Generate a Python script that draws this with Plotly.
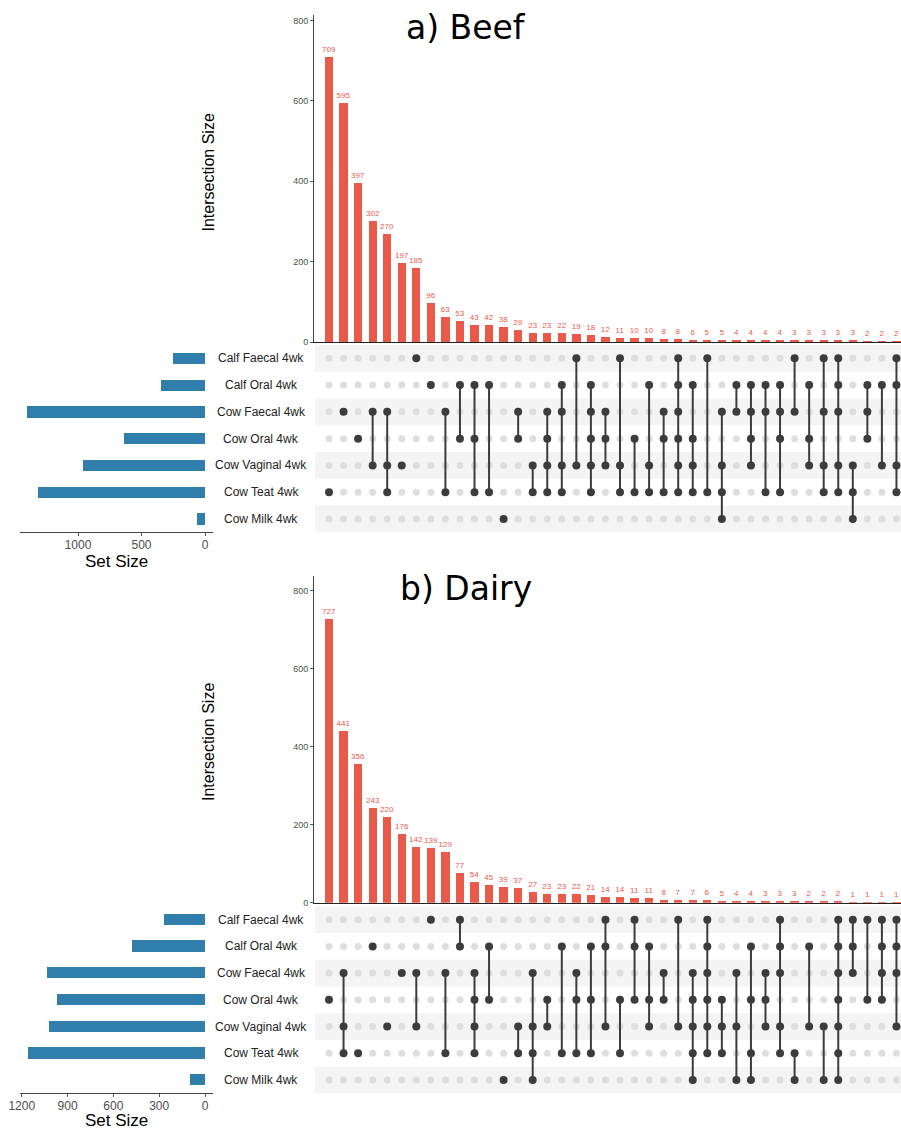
import plotly.graph_objects as go

# ---------------- data ----------------
set_names = ["Calf Faecal 4wk", "Calf Oral 4wk", "Cow Faecal 4wk", "Cow Oral 4wk",
             "Cow Vaginal 4wk", "Cow Teat 4wk", "Cow Milk 4wk"]

beef_inter_sizes = [709, 595, 397, 302, 270, 197, 185, 96, 63, 53,
                    43, 42, 38, 29, 23, 23, 22, 19, 18, 12,
                    11, 10, 10, 8, 8, 6, 5, 5, 4, 4,
                    4, 4, 3, 3, 3, 3, 3, 2, 2, 2]
# membership: indices into set_names
beef_members = [[5], [2], [3], [2, 4], [2, 4, 5], [4], [0], [1], [2, 5], [1, 3],
                [1, 3, 5], [1, 5], [6], [2, 3], [4, 5], [2, 3, 4, 5], [1, 2, 4, 5], [0, 4], [1, 2, 3, 4, 5], [2, 3, 4],
                [0, 4, 5], [3, 5], [1, 4, 5], [2, 3, 5], [0, 1, 2, 3, 4, 5], [1, 3, 4, 5], [0, 5], [2, 4, 5, 6], [1, 2], [1, 2, 3, 4],
                [1, 2, 5], [1, 2, 3, 5], [0, 2], [1, 3, 4], [0, 2, 4, 5], [0, 1, 2, 4, 5], [4, 5, 6], [1, 2, 3], [1, 4], [0, 1, 4, 5]]
beef_set_sizes = [255, 344, 1399, 635, 963, 1317, 63]

dairy_inter_sizes = [727, 441, 356, 243, 220, 176, 142, 139, 129, 77,
                     54, 45, 39, 37, 27, 23, 23, 22, 21, 14,
                     14, 11, 11, 8, 7, 7, 6, 5, 4, 4,
                     3, 3, 3, 2, 2, 2, 1, 1, 1, 1]
dairy_members = [[3], [2, 4, 5], [5], [1], [4], [2], [2, 4], [0], [2, 5], [0, 1],
                 [2, 3, 4, 5], [1, 3], [6], [4, 5], [2, 4, 5, 6], [3, 4], [1, 5], [2, 3, 5], [1, 3, 5], [0, 1, 4],
                 [3, 5], [0, 1, 3], [1, 3, 4], [2, 3], [0, 4], [2, 3, 4, 5, 6], [0, 1, 2, 3, 4, 5], [3, 4, 5], [2, 4, 6], [1, 3, 5, 6],
                 [2, 3, 4], [0, 1, 2, 4, 5], [5, 6], [1, 4], [4, 6], [0, 1, 2, 3, 4, 5, 6], [0, 1, 2], [0, 3], [0, 1, 2, 3], [0, 1, 2, 4]]
dairy_set_sizes = [271, 476, 1035, 969, 1019, 1161, 96]

beef_set_ticks = [0, 500, 1000]
dairy_set_ticks = [0, 300, 600, 900, 1200]
inter_ticks = [0, 200, 400, 600, 800]

# ---------------- style ----------------
W, H = 901, 1129
RED = "#EA5A4B"
BLUE = "#317EAC"
DARK = "#3C3C3C"
LIGHT = "#DEDEDE"
BAND = "#F4F4F4"
TICKC = "#4D4D4D"
SANS = "Liberation Sans, Arial, sans-serif"


def px(x):
    return x / W


def py(y):
    return 1 - y / H


fig = go.Figure()
annotations = []
shapes = []

COL0 = 329.0
STEP = 14.55
AX_LEFT = 314.0
RANGE_TOP = {0: (342 - 15) / 0.4017, 1: (902.7 - 576) / 0.39}


def nm(a):
    return "" if a == 1 else str(a)


def panel(k, title, inter_sizes, members, set_sizes, set_ticks,
          title_y, bar_top, bar_base, mat_top, mat_bot, set_range, ylab_y, setsize_y):
    n = len(inter_sizes)
    xs = list(range(1, n + 1))
    r0 = 1 - (COL0 - AX_LEFT) / STEP
    r1 = r0 + (W - AX_LEFT) / STEP
    xa, ya = 3 * k + 1, 3 * k + 1          # bars
    xm, ym = 3 * k + 2, 3 * k + 2          # matrix
    xs_ = 3 * k + 3                        # set sizes

    # intersection bars
    fig.add_trace(go.Bar(x=xs, y=inter_sizes, text=[str(v) for v in inter_sizes],
                         textposition="outside", constraintext="none",
                         textfont=dict(size=8, color=RED, family=SANS),
                         marker=dict(color=RED, line=dict(width=0)), width=0.57,
                         cliponaxis=False, hoverinfo="skip",
                         xaxis="x" + nm(xa), yaxis="y" + nm(ya), showlegend=False))

    # matrix dots and lines
    ix, iy, ax_, ay_, lx, ly = [], [], [], [], [], []
    for c, mem in zip(xs, members):
        for r in range(len(set_names)):
            if r in mem:
                ax_.append(c); ay_.append(r)
            else:
                ix.append(c); iy.append(r)
        if len(mem) > 1:
            lx += [c, c, None]; ly += [min(mem), max(mem), None]
    fig.add_trace(go.Scatter(x=ix, y=iy, mode="markers", marker=dict(size=7, color=LIGHT),
                             xaxis="x" + nm(xm), yaxis="y" + nm(ym), hoverinfo="skip", showlegend=False,
                             cliponaxis=False))
    fig.add_trace(go.Scatter(x=lx, y=ly, mode="lines", line=dict(color=DARK, width=2),
                             xaxis="x" + nm(xm), yaxis="y" + nm(ym), hoverinfo="skip", showlegend=False,
                             cliponaxis=False))
    fig.add_trace(go.Scatter(x=ax_, y=ay_, mode="markers", marker=dict(size=8, color=DARK),
                             xaxis="x" + nm(xm), yaxis="y" + nm(ym), hoverinfo="skip", showlegend=False,
                             cliponaxis=False))

    # set size bars
    fig.add_trace(go.Bar(x=set_sizes, y=list(range(len(set_names))), orientation="h",
                         marker=dict(color=BLUE, line=dict(width=0)), width=0.42,
                         xaxis="x" + nm(xs_), yaxis="y" + nm(ym), hoverinfo="skip", showlegend=False))

    # axes
    fig.update_layout(**{
        "xaxis" + nm(xa): dict(domain=[px(AX_LEFT), 1], range=[r0, r1], anchor="y" + nm(ya),
                               showline=True, linecolor="#222222", linewidth=1.2, showticklabels=False,
                               ticks="", showgrid=False, zeroline=False, automargin=False),
        "yaxis" + nm(ya): dict(domain=[py(bar_base), py(bar_top)], range=[0, RANGE_TOP[k]],
                               anchor="x" + nm(xa), tickvals=inter_ticks, ticks="outside", ticklen=3,
                               tickcolor="#555555", tickfont=dict(size=9, color=TICKC, family=SANS),
                               showline=True, linecolor="#444444", linewidth=1, showgrid=False,
                               zeroline=False, automargin=False),
        "xaxis" + nm(xm): dict(domain=[px(AX_LEFT), 1], range=[r0, r1], anchor="y" + nm(ym),
                               showticklabels=False, ticks="", showgrid=False, zeroline=False,
                               showline=False, automargin=False),
        "yaxis" + nm(ym): dict(domain=[py(mat_bot), py(mat_top)], range=[6.5, -0.5], anchor="x" + nm(xm),
                               showticklabels=False, ticks="", showgrid=False, zeroline=False,
                               showline=False, automargin=False),
        "xaxis" + nm(xs_): dict(domain=[px(20), px(213)], range=set_range, anchor="y" + nm(ym),
                                tickvals=set_ticks, ticks="outside", ticklen=3, tickcolor="#555555",
                                tickfont=dict(size=12, color=TICKC, family=SANS), ticklabelstandoff=-2,
                                showline=True, linecolor="#444444", linewidth=1, showgrid=False,
                                zeroline=False, automargin=False),
    })

    # bands
    for r in range(0, len(set_names), 2):
        shapes.append(dict(type="rect", xref="paper", yref="y" + nm(ym), x0=px(AX_LEFT + 1), x1=1,
                           y0=r - 0.5, y1=r + 0.5, fillcolor=BAND, line=dict(width=0), layer="below"))

    # set labels
    for r, name in enumerate(set_names):
        annotations.append(dict(x=px(261), y=r, xref="paper", yref="y" + nm(ym), text=name,
                                showarrow=False, xanchor="center", yanchor="middle",
                                font=dict(size=12, color="#222222", family=SANS)))
    annotations.append(dict(x=px(466), y=py(title_y), xref="paper", yref="paper", text=title,
                            showarrow=False, xanchor="center", yanchor="middle",
                            font=dict(size=33, color="black", family="DejaVu Sans")))
    annotations.append(dict(x=px(208), y=py(ylab_y), xref="paper", yref="paper", text="Intersection Size",
                            showarrow=False, xanchor="center", yanchor="middle", textangle=-90,
                            font=dict(size=16, color="black", family=SANS)))
    annotations.append(dict(x=px(116.5), y=py(setsize_y), xref="paper", yref="paper", text="Set Size",
                            showarrow=False, xanchor="center", yanchor="middle",
                            font=dict(size=17, color="black", family=SANS)))


panel(0, "a) Beef", beef_inter_sizes, beef_members, beef_set_sizes, beef_set_ticks,
      title_y=27, bar_top=15, bar_base=342, mat_top=344.9, mat_bot=532.4,
      set_range=[(205 - 20) / 0.127, -8 / 0.127], ylab_y=172.5, setsize_y=561)
panel(1, "b) Dairy", dairy_inter_sizes, dairy_members, dairy_set_sizes, dairy_set_ticks,
      title_y=588, bar_top=576, bar_base=902.7, mat_top=906.3, mat_bot=1093.4,
      set_range=[(205 - 20) / 0.1527, -8 / 0.1527], ylab_y=742, setsize_y=1120)

fig.update_layout(template="none", width=W, height=H,
                  margin=dict(l=0, r=0, t=0, b=0, pad=0, autoexpand=False),
                  paper_bgcolor="white", plot_bgcolor="rgba(0,0,0,0)",
                  annotations=annotations, shapes=shapes, bargap=0,
                  showlegend=False, font=dict(family=SANS))

fig.write_html("out.html", config={"displayModeBar": False},
               post_script="document.body.style.margin='0';document.body.style.padding='0';"
                           "document.body.style.overflow='hidden';")
